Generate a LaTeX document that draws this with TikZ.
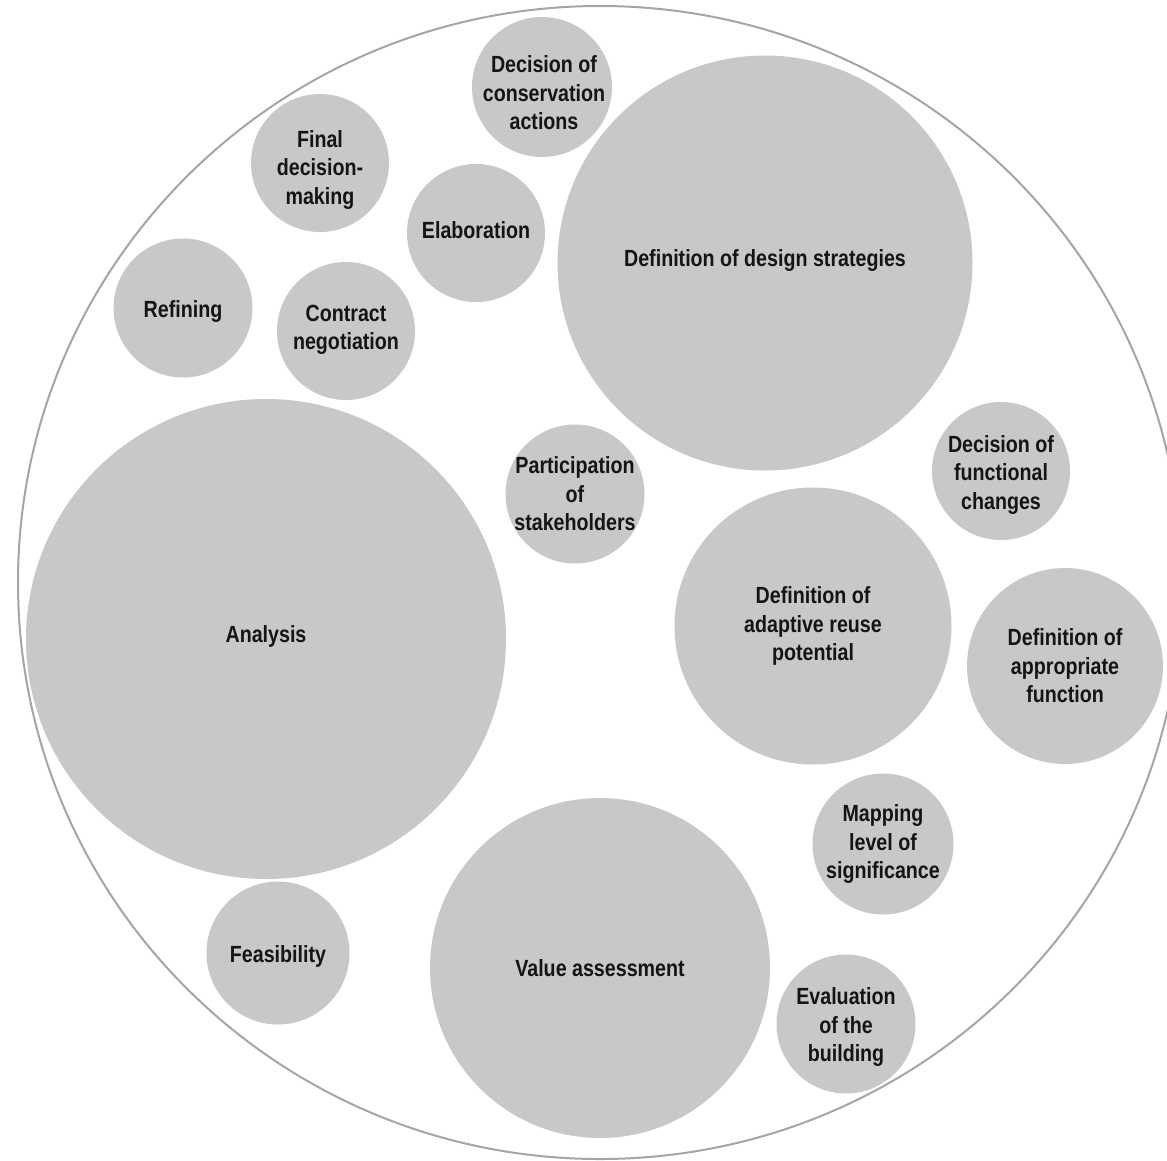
\documentclass[tikz,border=0pt]{standalone}
\usepackage{fontspec}
\setmainfont{Liberation Sans}[FakeStretch=0.84]
\definecolor{bubgray}{RGB}{200,200,200}
\definecolor{ringgray}{RGB}{165,165,165}
\definecolor{txt}{RGB}{20,20,20}
\begin{document}
\begin{tikzpicture}[x=1pt,y=-1pt,
  bub/.style={circle, fill=bubgray, draw=none, inner sep=0pt, minimum size=#1},
  lab/.style={inner sep=0pt, align=center, text=txt,
    font=\bfseries\fontsize{23.4}{28.5}\selectfont, yshift=#1},
  lab/.default=0pt,
  ring/.style={draw=ringgray, line width=2pt}]
\useasboundingbox (0,0) rectangle (1167,1160);
\draw[ring] (600,582.5) ellipse [x radius=582, y radius=576.5];
\node[bub=480pt, label={[lab=3pt]center:Analysis}] (analysis) at (266,639) {};
\node[bub=415pt, label={[lab=3pt]center:Definition of design strategies}] (design) at (765,263) {};
\node[bub=340pt, label={[lab]center:Value assessment}] (value) at (600,968) {};
\node[bub=277pt, label={[lab]center:Definition of\\adaptive reuse\\potential}] (adaptive) at (813,626) {};
\node[bub=196pt, label={[lab]center:Definition of\\appropriate\\function}] (appropriate) at (1065,666) {};
\node[bub=138pt, label={[lab=-3.5pt]center:Decision of\\functional\\changes}] (functional) at (1001,471) {};
\node[bub=141pt, label={[lab]center:Mapping\\level of\\significance}] (mapping) at (883,844) {};
\node[bub=139pt, label={[lab=-3pt]center:Evaluation\\of the\\building}] (evaluation) at (846,1024) {};
\node[bub=143pt, label={[lab=-3pt]center:Feasibility}] (feasibility) at (278,953) {};
\node[bub=139pt, label={[lab]center:Participation\\of\\stakeholders}] (participation) at (575,494) {};
\node[bub=139pt, label={[lab=-3pt]center:Refining}] (refining) at (183,308) {};
\node[bub=138pt, label={[lab=1pt]center:Contract\\negotiation}] (contract) at (346,331) {};
\node[bub=138pt, label={[lab=3pt]center:Elaboration}] (elaboration) at (476,233) {};
\node[bub=138pt, label={[lab=-6.5pt]center:Final\\decision-\\making}] (final) at (320,163) {};
\node[bub=140pt, label={[lab=-6pt, xshift=2pt]center:Decision of\\conservation\\actions}] (conservation) at (542,87) {};
\end{tikzpicture}
\end{document}
